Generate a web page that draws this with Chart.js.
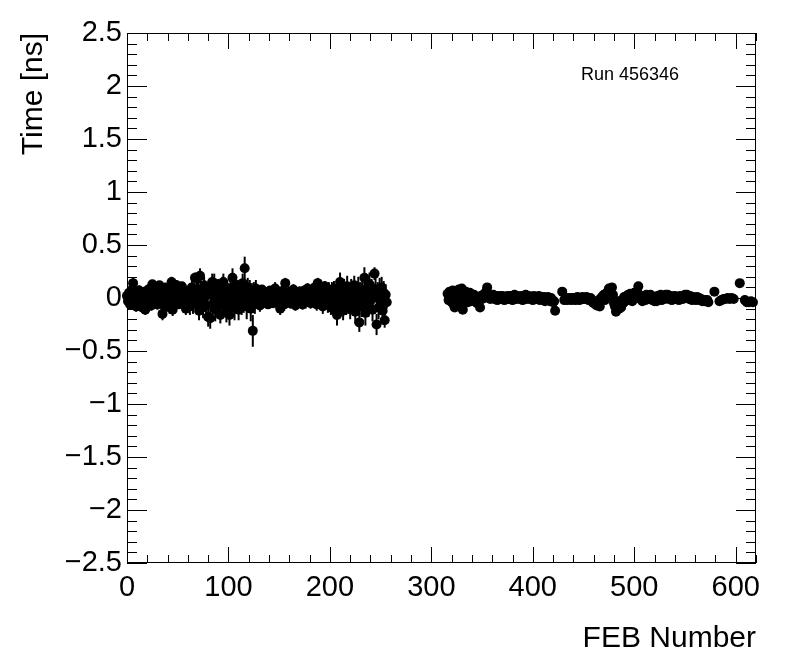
<!DOCTYPE html>
<html>
<head>
<meta charset="utf-8">
<script src="https://cdn.jsdelivr.net/npm/chart.js@4.4.0/dist/chart.umd.min.js"></script>
<style>
    html, body { margin: 0; padding: 0; background: #ffffff; }
    canvas { display: block; }
</style>
</head>
<body>
<canvas id="febChart" width="796" height="672"></canvas>
<script>
const runLabel = "Run 456346";
const xTitle = "FEB Number";
const yTitle = "Time [ns]";
const fontFamily = "'Liberation Sans', Arial, Helvetica, sans-serif";

// FEB 0..256, one value per FEB
const firstFebLeft = 0;
const timeLeft = [
    0.02, -0.03, 0.05, -0.06, 0.01, 0.08, 0.14, -0.02, 0.04, -0.08,
    0.03, -0.05, 0.07, -0.01, 0.05, -0.09, 0.02, 0.06, -0.11, 0.01,
    -0.04, 0.08, -0.02, 0.05, -0.07, 0.13, 0.03, -0.05, 0.09, 0.00,
    -0.06, 0.04, 0.12, -0.03, 0.07, -0.15, 0.02, -0.08, 0.10, 0.04,
    -0.02, 0.06, -0.09, 0.03, 0.15, -0.11, 0.05, 0.08, -0.04, 0.12,
    0.02, -0.06, 0.09, -0.01, 0.11, -0.05, 0.04, 0.07, -0.10, 0.03,
    -0.03, 0.06, -0.08, 0.02, 0.10, -0.06, 0.05, 0.19, -0.04, 0.18,
    0.08, -0.12, 0.21, -0.02, 0.06, -0.09, 0.12, 0.01, -0.07, 0.04,
    -0.18, 0.09, -0.19, 0.03, 0.15, -0.05, 0.14, -0.11, 0.06, 0.00,
    0.08, -0.07, -0.16, 0.04, 0.11, 0.15, -0.03, 0.07, -0.12, 0.02,
    0.05, -0.16, 0.09, -0.04, 0.19, 0.01, -0.09, 0.12, -0.02, 0.06,
    -0.11, 0.08, 0.03, -0.06, 0.14, -0.02, 0.28, 0.05, -0.08, 0.10,
    -0.03, 0.07, -0.10, 0.04, -0.31, 0.06, -0.05, 0.09, -0.01, 0.03,
    0.05, -0.07, 0.02, 0.08, -0.04, 0.01, 0.06, -0.03, 0.04, -0.06,
    0.03, 0.07, -0.02, 0.05, -0.05, 0.02, 0.09, -0.04, 0.01, 0.06,
    -0.03, -0.10, 0.04, 0.00, 0.07, -0.06, 0.14, 0.02, -0.04, 0.05,
    0.01, -0.05, 0.06, -0.02, 0.08, 0.03, -0.07, 0.04, 0.00, -0.03,
    0.06, -0.01, 0.05, -0.06, 0.03, 0.07, -0.04, 0.02, 0.09, -0.02,
    0.04, -0.05, 0.01, 0.06, -0.03, 0.10, 0.02, -0.06, 0.14, 0.03,
    -0.04, 0.07, 0.00, -0.08, 0.05, 0.11, -0.02, 0.04, -0.06, 0.08,
    0.01, -0.09, 0.06, -0.03, 0.09, -0.11, 0.03, -0.16, 0.07, -0.02,
    0.15, -0.06, 0.04, -0.12, 0.08, 0.02, -0.07, 0.11, -0.04, 0.05,
    -0.10, 0.09, 0.01, -0.05, 0.12, -0.13, 0.06, -0.02, 0.10, -0.23,
    0.04, -0.08, 0.07, -0.03, 0.19, -0.14, 0.03, 0.09, -0.06, 0.13,
    -0.02, 0.06, -0.11, 0.04, 0.23, 0.08, -0.25, 0.02, -0.09, 0.07,
    -0.04, 0.10, -0.12, 0.05, -0.21, 0.03, -0.04
];
const errLeft = [
    .04, .03, .04, .05, .03, .04, .05, .03, .04, .05,
    .03, .04, .05, .03, .04, .05, .04, .03, .05, .04,
    .04, .05, .03, .04, .05, .04, .03, .05, .04, .03,
    .05, .04, .04, .03, .05, .06, .04, .05, .04, .03,
    .04, .05, .06, .04, .05, .06, .04, .05, .04, .05,
    .05, .04, .06, .05, .04, .06, .05, .04, .06, .05,
    .07, .06, .08, .07, .06, .09, .07, .05, .08, .06,
    .08, .09, .07, .08, .09, .10, .08, .07, .09, .08,
    .09, .08, .10, .09, .08, .10, .09, .11, .08, .09,
    .10, .09, .08, .10, .09, .08, .10, .09, .11, .10,
    .09, .10, .08, .11, .09, .10, .12, .09, .10, .11,
    .10, .09, .11, .10, .09, .12, .11, .10, .12, .09,
    .11, .10, .12, .10, .15, .09, .10, .08, .09, .07,
    .05, .06, .05, .04, .05, .06, .04, .05, .06, .04,
    .05, .04, .06, .05, .04, .05, .06, .04, .05, .04,
    .05, .06, .04, .05, .04, .06, .05, .04, .05, .06,
    .04, .05, .04, .06, .05, .04, .05, .06, .04, .05,
    .05, .04, .06, .05, .04, .05, .06, .04, .05, .04,
    .06, .05, .04, .05, .06, .04, .05, .06, .05, .04,
    .05, .06, .05, .07, .06, .05, .07, .06, .08, .07,
    .08, .07, .09, .08, .07, .09, .08, .10, .09, .08,
    .09, .10, .08, .09, .10, .08, .09, .10, .11, .09,
    .10, .09, .11, .10, .09, .11, .10, .12, .10, .09,
    .11, .10, .12, .11, .10, .12, .11, .10, .12, .11,
    .10, .12, .11, .10, .06, .12, .10, .13, .11, .12,
    .12, .10, .13, .11, .07, .10, .06
];

// FEB 316..619, null = no entry
const firstFebRight = 316;
const timeRight = [
    0.04, -0.02, 0.06, 0.01, -0.04, 0.07, -0.06, -0.09, 0.03, 0.05,
    -0.03, 0.08, 0.00, -0.05, 0.09, -0.11, 0.04, -0.02, 0.06, 0.02,
    -0.04, 0.01, 0.05, -0.03, 0.02, -0.01, 0.03, -0.02, 0.00, -0.05,
    0.01, -0.03, -0.09, 0.02, -0.01, 0.03, 0.00, 0.04, 0.06, 0.10,
    0.03, 0.01, -0.01, 0.02, 0.00, 0.03, -0.01, 0.01, 0.02, -0.02,
    0.01, 0.02, 0.00, -0.01, 0.02, 0.01, -0.02, 0.00, 0.01, 0.02,
    -0.01, 0.00, 0.02, 0.01, -0.02, 0.01, 0.03, 0.00, -0.01, 0.02,
    0.01, -0.01, 0.00, 0.02, -0.02, 0.01, 0.00, 0.03, -0.01, 0.01,
    0.02, -0.01, 0.00, 0.01, -0.02, 0.02, 0.00, -0.01, 0.01, 0.00,
    0.02, -0.02, 0.01, -0.01, 0.00, 0.01, -0.03, 0.00, -0.02, 0.01,
    -0.01, -0.03, 0.00, -0.02, -0.04, -0.03, -0.12, null, null, null,
    null, null, null, 0.06, null, -0.02, -0.01, 0.00, -0.02, -0.01,
    0.00, -0.01, -0.02, 0.00, -0.01, 0.00, -0.02, -0.01, 0.01, -0.01,
    -0.02, 0.00, -0.01, 0.01, -0.01, 0.00, -0.01, 0.01, 0.00, -0.02,
    -0.01, 0.00, -0.03, -0.04, -0.05, -0.04, -0.06, -0.07, -0.05, -0.02,
    -0.08, -0.03, 0.01, 0.00, 0.03, -0.02, 0.04, 0.01, 0.06, 0.09,
    0.08, 0.02, 0.10, 0.03, -0.05, -0.08, -0.13, -0.06, -0.03, -0.10,
    -0.04, -0.09, -0.02, -0.05, 0.01, -0.03, -0.01, 0.02, 0.03, -0.02,
    0.04, 0.00, -0.03, 0.02, 0.05, 0.01, 0.03, 0.06, 0.11, 0.02,
    -0.01, 0.01, -0.03, 0.02, 0.00, -0.02, 0.03, 0.01, 0.02, -0.01,
    0.03, 0.00, -0.02, 0.01, -0.03, 0.00, -0.03, 0.02, -0.01, 0.01,
    0.03, -0.02, 0.00, 0.02, -0.01, 0.03, 0.01, 0.03, -0.01, 0.00,
    0.02, -0.02, 0.01, 0.00, 0.02, -0.01, 0.01, 0.00, -0.02, 0.02,
    0.00, 0.01, -0.01, 0.02, 0.03, 0.01, 0.03, 0.00, -0.01, 0.02,
    0.00, -0.02, 0.01, -0.01, 0.00, -0.02, 0.01, -0.01, 0.00, -0.02,
    -0.01, -0.03, -0.02, -0.03, -0.02, -0.03, -0.02, -0.04, null, null,
    null, null, null, 0.06, null, null, null, null, -0.03, null,
    -0.02, null, -0.01, null, -0.01, null, 0.00, null, -0.01, null,
    0.00, null, -0.01, null, null, null, null, null, 0.14, null,
    null, null, null, -0.02, null, -0.04, null, -0.04, null, -0.03,
    null, -0.04, null, null
];

const toPoints = (first, values, errs) =>
    values
        .map((v, i) => ({ x: first + i, y: v, err: errs ? errs[i] : 0 }))
        .filter((p) => p.y !== null);

const fmtTick = (v) => {
    const r = Math.round(v * 10) / 10;
    return r < 0 ? "\u2212" + Math.abs(r) : String(r);
};

// ROOT style frame: box, inward ticks on all sides, error bars, run label
const rootFrame = {
    id: "rootFrame",
    beforeDatasetsDraw(chart) {
        const { ctx, scales } = chart;
        ctx.save();
        ctx.strokeStyle = "#000";
        ctx.lineWidth = 2;
        chart.data.datasets.forEach((ds) => {
            ds.data.forEach((p) => {
                if (!p.err) return;
                const px = scales.x.getPixelForValue(p.x);
                ctx.beginPath();
                ctx.moveTo(px, scales.y.getPixelForValue(p.y - p.err));
                ctx.lineTo(px, scales.y.getPixelForValue(p.y + p.err));
                ctx.stroke();
            });
        });
        ctx.restore();
    },
    afterDatasetsDraw(chart) {
        const { ctx, chartArea, scales } = chart;
        const { left, right, top, bottom } = chartArea;
        ctx.save();
        ctx.strokeStyle = "#000";
        ctx.lineWidth = 1;
        ctx.strokeRect(left + 0.5, top + 0.5, right - left - 1, bottom - top - 1);

        ctx.beginPath();
        for (let v = 0; v <= 620; v += 20) {
            const px = Math.round(scales.x.getPixelForValue(v)) + 0.5;
            const len = v % 100 === 0 ? 16 : 8;
            ctx.moveTo(px, bottom);
            ctx.lineTo(px, bottom - len);
            ctx.moveTo(px, top);
            ctx.lineTo(px, top + len);
        }
        for (let k = -25; k <= 25; k++) {
            const py = Math.round(scales.y.getPixelForValue(k / 10)) + 0.5;
            const len = k % 5 === 0 ? 20 : 10;
            ctx.moveTo(left, py);
            ctx.lineTo(left + len, py);
            ctx.moveTo(right, py);
            ctx.lineTo(right - len, py);
        }
        ctx.stroke();

        ctx.fillStyle = "#000";
        ctx.font = "18px " + fontFamily;
        ctx.textAlign = "left";
        ctx.textBaseline = "alphabetic";
        ctx.fillText(runLabel, 581, 80);
        ctx.restore();
    },
};

const markerStyle = {
    backgroundColor: "#000000",
    borderColor: "#000000",
    borderWidth: 0,
    pointRadius: 5,
    pointHoverRadius: 5,
    showLine: false,
    clip: false,
};

new Chart(document.getElementById("febChart"), {
    type: "scatter",
    data: {
        datasets: [
            { ...markerStyle, label: "left", data: toPoints(firstFebLeft, timeLeft, errLeft) },
            { ...markerStyle, label: "right", data: toPoints(firstFebRight, timeRight, null) },
        ],
    },
    options: {
        responsive: false,
        animation: false,
        devicePixelRatio: 1,
        layout: { padding: { top: 33, right: 40, left: 0, bottom: 0 } },
        plugins: {
            legend: { display: false },
            tooltip: { enabled: false },
        },
        scales: {
            x: {
                type: "linear",
                min: 0,
                max: 620,
                afterFit: (s) => { s.height = 109; },
                grid: { display: false, drawTicks: false },
                border: { display: false },
                ticks: {
                    stepSize: 100,
                    includeBounds: false,
                    padding: 8,
                    maxRotation: 0,
                    autoSkip: false,
                    color: "#000",
                    font: { family: fontFamily, size: 29 },
                },
                title: {
                    display: true,
                    text: xTitle,
                    align: "end",
                    color: "#000",
                    font: { family: fontFamily, size: 30 },
                    padding: { top: 0, bottom: 15 },
                },
            },
            y: {
                type: "linear",
                min: -2.5,
                max: 2.5,
                afterFit: (s) => { s.width = 127; },
                grid: { display: false, drawTicks: false },
                border: { display: false },
                ticks: {
                    stepSize: 0.5,
                    padding: 5,
                    color: "#000",
                    font: { family: fontFamily, size: 29 },
                    callback: fmtTick,
                },
                title: {
                    display: true,
                    text: yTitle,
                    align: "end",
                    color: "#000",
                    font: { family: fontFamily, size: 30 },
                    padding: { top: 16, bottom: 0 },
                },
            },
        },
    },
    plugins: [rootFrame],
});
</script>
</body>
</html>
